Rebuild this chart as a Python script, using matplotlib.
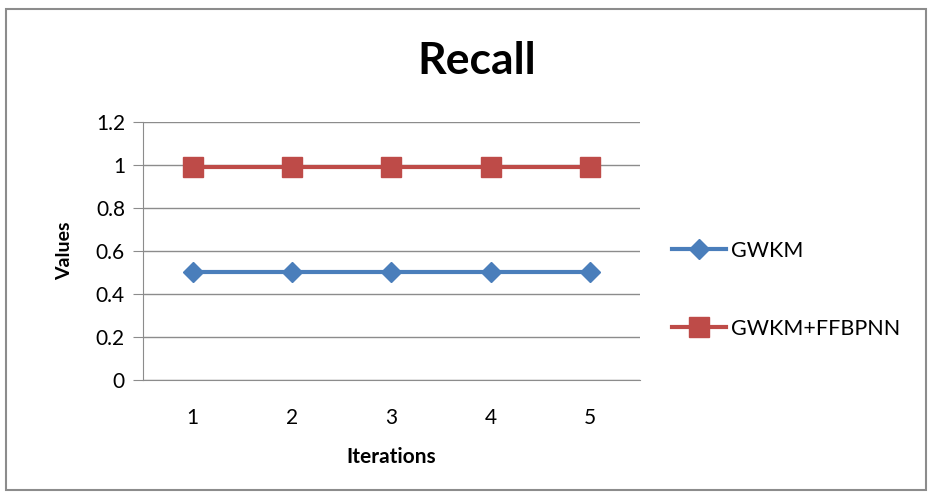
import matplotlib.pyplot as plt
from matplotlib.patches import Rectangle

plt.rcParams['font.family'] = ['Lato', 'DejaVu Sans']

iterations = [1, 2, 3, 4, 5]
gwkm = [0.5, 0.5, 0.5, 0.5, 0.5]
gwkm_ffbpnn = [0.99, 0.99, 0.99, 0.99, 0.99]
y_ticks = [0, 0.2, 0.4, 0.6, 0.8, 1, 1.2]
y_labels = ['0', '0.2', '0.4', '0.6', '0.8', '1', '1.2']

fig = plt.figure(figsize=(9.32, 4.99), dpi=100)
ax = fig.add_axes([0.1534, 0.2385, 0.5333, 0.517])

ax.plot(iterations, gwkm, color='#4A7EBB', lw=3, marker='D', ms=10,
        label='GWKM')
ax.plot(iterations, gwkm_ffbpnn, color='#BE4B48', lw=3, marker='s', ms=15,
        label='GWKM+FFBPNN')

ax.set_xlim(0.5, 5.5)
ax.set_ylim(0, 1.2)
ax.set_yticks(y_ticks)
ax.set_yticklabels(y_labels)
ax.set_xticks(iterations)
ax.grid(axis='y', color='#8c8c8c', lw=1)
ax.set_axisbelow(True)
for s in ['top', 'right']:
    ax.spines[s].set_visible(False)
for s in ['left', 'bottom']:
    ax.spines[s].set_color('#8c8c8c')
ax.tick_params(axis='y', length=7, color='#8c8c8c', labelsize=15, pad=6)
ax.tick_params(axis='x', length=0, labelsize=15, pad=20)

ax.set_xlabel('Iterations', fontsize=15, fontweight='bold', labelpad=14)
ax.set_ylabel('Values', fontsize=14, fontweight='bold', labelpad=16)
fig.text(0.512, 0.878, 'Recall', ha='center', va='center', fontsize=32,
         fontweight='bold')

ax.legend(loc='center left', bbox_to_anchor=(1.025, 0.35), frameon=False,
          fontsize=15.5, labelspacing=2.7, handlelength=2.5, handletextpad=0.25)

fig.patches.append(Rectangle((0.006, 0.018), 0.988, 0.963, transform=fig.transFigure,
                             fill=False, edgecolor='#8c8c8c', lw=1.5))

fig.savefig('out.png', dpi=100)
